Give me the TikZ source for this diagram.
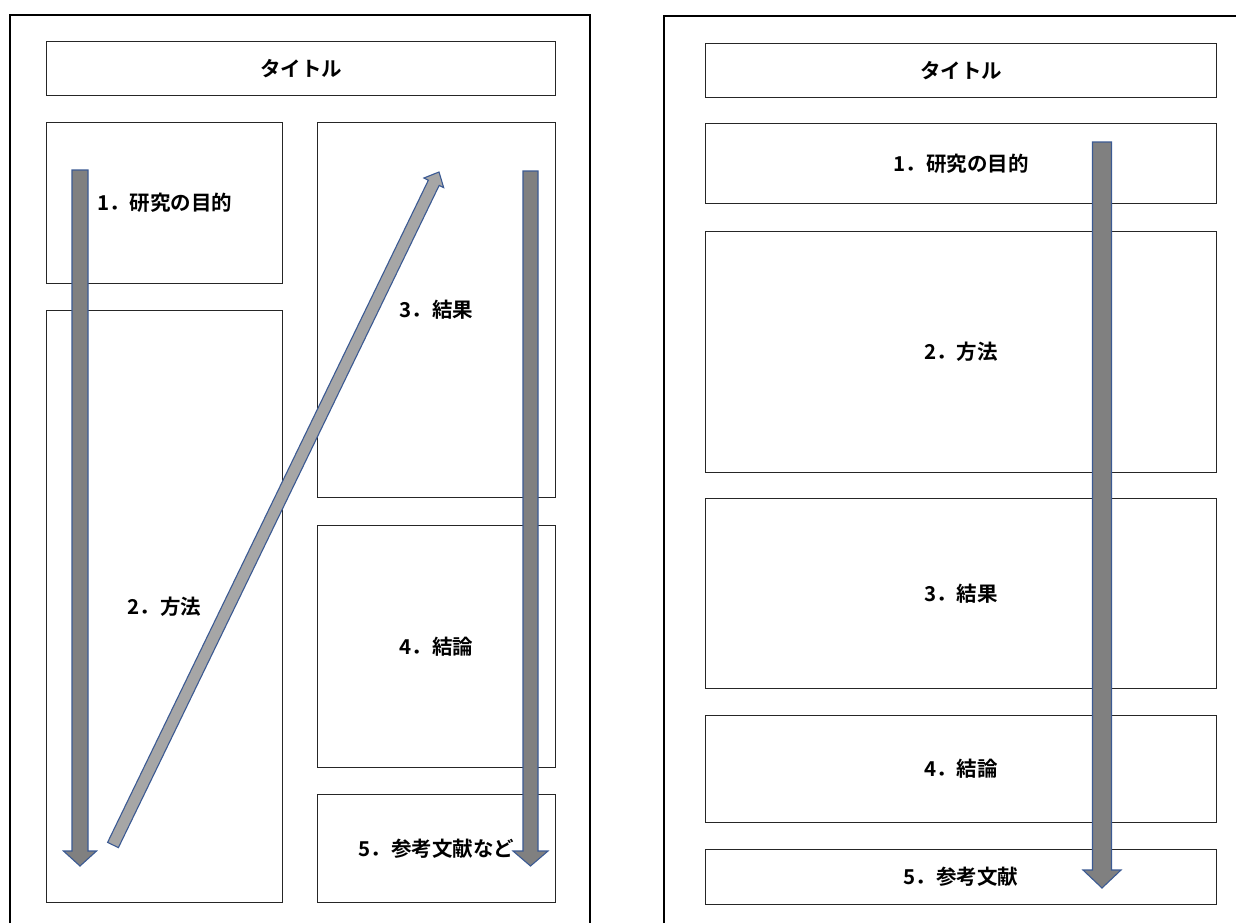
\documentclass[tikz,border=0pt]{standalone}
\usepackage{fontspec}
\setmainfont{Noto Sans CJK JP}[BoldFont={* Bold}]
\usetikzlibrary{calc}
\definecolor{arrfill}{HTML}{808080}
\definecolor{diagfill}{HTML}{A6A6A6}
\definecolor{arrline}{HTML}{3B5A93}
\newcommand\blockarr[6]{% style, start, tip, shaft half-width, head half-width, head length
  \coordinate (#2b) at ($(#3)!#6!(#2)$);
  \draw[#1] ($(#2)!#4!90:(#3)$) -- ($(#2b)!#4!90:(#3)$) -- ($(#2b)!#5!90:(#3)$) -- (#3)
    -- ($(#2b)!#5!-90:(#3)$) -- ($(#2b)!#4!-90:(#3)$) -- ($(#2)!#4!-90:(#3)$) -- cycle;}
\begin{document}
\begin{tikzpicture}[x=1pt,y=-1pt,
  box/.style={draw=black!85, line width=1.3pt, anchor=north west, inner sep=0pt,
    font=\bfseries\fontsize{20.5}{24}\selectfont},
  frame/.style={draw=black, line width=2.4pt},
  downarr/.style={fill=arrfill, draw=arrline, line width=1.1pt},
  diagarr/.style={fill=diagfill, draw=arrline, line width=1.1pt}]
\useasboundingbox (0,0) rectangle (1236,923);
\fill[white] (0,0) rectangle (1236,923);
% left page
\draw[frame] (10,923) -- (10,15) -- (590,15) -- (590,923);
\node[box, minimum width=509pt, minimum height=54pt] (Lt) at (46,41) {タイトル};
\node[box, minimum width=236pt, minimum height=161pt] (L1) at (46,122) {1．研究の目的};
\node[box, minimum width=236pt, minimum height=592pt] (L2) at (46,310) {2．方法};
\node[box, minimum width=238pt, minimum height=375pt] (L3) at (317,122) {3．結果};
\node[box, minimum width=238pt, minimum height=242pt] (L4) at (317,525) {4．結論};
\node[box, minimum width=238pt, minimum height=108pt] (L5) at (317,794) {5．参考文献など};
% right page
\draw[frame] (664,923) -- (664,16) -- (1236,16);
\node[box, minimum width=511pt, minimum height=54pt] (Rt) at (705,43) {タイトル};
\node[box, minimum width=511pt, minimum height=80pt] (R1) at (705,123) {1．研究の目的};
\node[box, minimum width=511pt, minimum height=241pt] (R2) at (705,231) {2．方法};
\node[box, minimum width=511pt, minimum height=190pt] (R3) at (705,498) {3．結果};
\node[box, minimum width=511pt, minimum height=107pt] (R4) at (705,715) {4．結論};
\node[box, minimum width=511pt, minimum height=55pt] (R5) at (705,849) {5．参考文献};
% arrows
\coordinate (a1) at (80,170);   \coordinate (a1t) at (80,866);
\coordinate (a2) at (113,845);  \coordinate (a2t) at (439,172);
\coordinate (a3) at (530.5,171); \coordinate (a3t) at (530.5,866);
\coordinate (a4) at (1102,142); \coordinate (a4t) at (1102,888);
\blockarr{downarr}{a1}{a1t}{8pt}{16.5pt}{15pt}
\blockarr{diagarr}{a2}{a2t}{6pt}{11pt}{12pt}
\blockarr{downarr}{a3}{a3t}{7.5pt}{17.5pt}{15pt}
\blockarr{downarr}{a4}{a4t}{9.5pt}{19pt}{18pt}
\end{tikzpicture}
\end{document}
